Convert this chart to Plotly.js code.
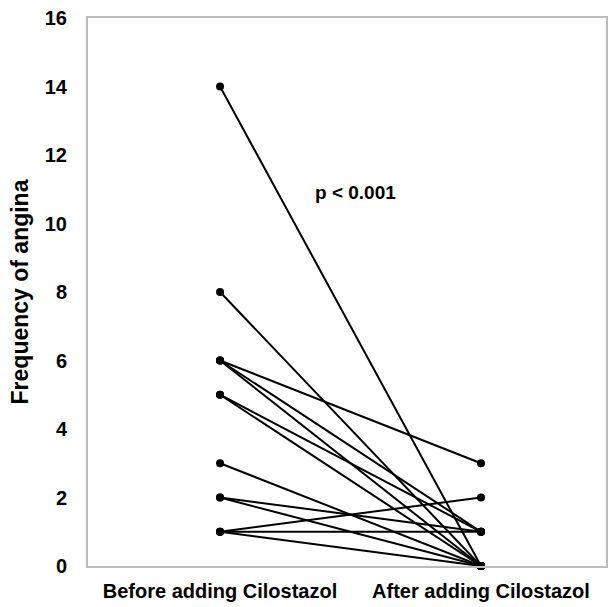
<!DOCTYPE html>
<html>
<head>
<meta charset="utf-8">
<script src="https://cdn.plot.ly/plotly-3.0.1.min.js"></script>
<style>html,body{margin:0;padding:0;background:#fff;}#chart{width:608px;height:607px;}</style>
</head>
<body>
<div id="chart"></div>
<script>
var categories = ["Before adding Cilostazol", "After adding Cilostazol"];
var before = [14, 8, 6, 6, 6, 5, 5, 3, 2, 2, 1, 1, 1];
var after  = [0, 0, 3, 1, 0, 1, 0, 0, 1, 0, 2, 1, 0];
var yTicks = [0, 2, 4, 6, 8, 10, 12, 14, 16];
var pText = "p < 0.001";

var FONT = "Liberation Sans, Arial, sans-serif";
var traces = before.map(function (b, i) {
  return {
    type: "scatter",
    mode: "lines+markers",
    x: [0, 1],
    y: [b, after[i]],
    line: {color: "#000", width: 2},
    marker: {color: "#000", size: 8},
    showlegend: false,
    hoverinfo: "skip",
    cliponaxis: false
  };
});

var layout = {
  width: 608, height: 607,
  margin: {l: 88, r: 2, t: 18, b: 41},
  paper_bgcolor: "#fff", plot_bgcolor: "#fff",
  font: {family: FONT, color: "#000"},
  xaxis: {
    range: [-0.506, 1.479],
    tickvals: [0, 1],
    ticktext: categories,
    tickfont: {family: FONT, size: 20, weight: "bold", color: "#000"},
    showgrid: false, zeroline: false,
    showline: true, linecolor: "#bbb", linewidth: 2, mirror: true,
    ticks: "outside", ticklen: 6, tickcolor: "rgba(0,0,0,0)",
    fixedrange: true
  },
  yaxis: {
    range: [0, 16],
    tickvals: yTicks,
    ticktext: yTicks.map(String),
    tickfont: {family: FONT, size: 20, weight: "bold", color: "#000"},
    showgrid: false, zeroline: false,
    showline: true, linecolor: "#bbb", linewidth: 2, mirror: true,
    ticks: "outside", ticklen: 15, tickcolor: "rgba(0,0,0,0)",
    title: {text: "Frequency of angina", font: {family: FONT, size: 23, weight: "bold", color: "#000"}, standoff: 10},
    automargin: false,
    fixedrange: true
  },
  annotations: [{
    x: 0.52, y: 10.9, xref: "x", yref: "y",
    text: pText, showarrow: false,
    font: {family: FONT, size: 19, weight: "bold", color: "#000"}
  }]
};

Plotly.newPlot("chart", traces, layout, {displayModeBar: false, staticPlot: true});
</script>
</body>
</html>
